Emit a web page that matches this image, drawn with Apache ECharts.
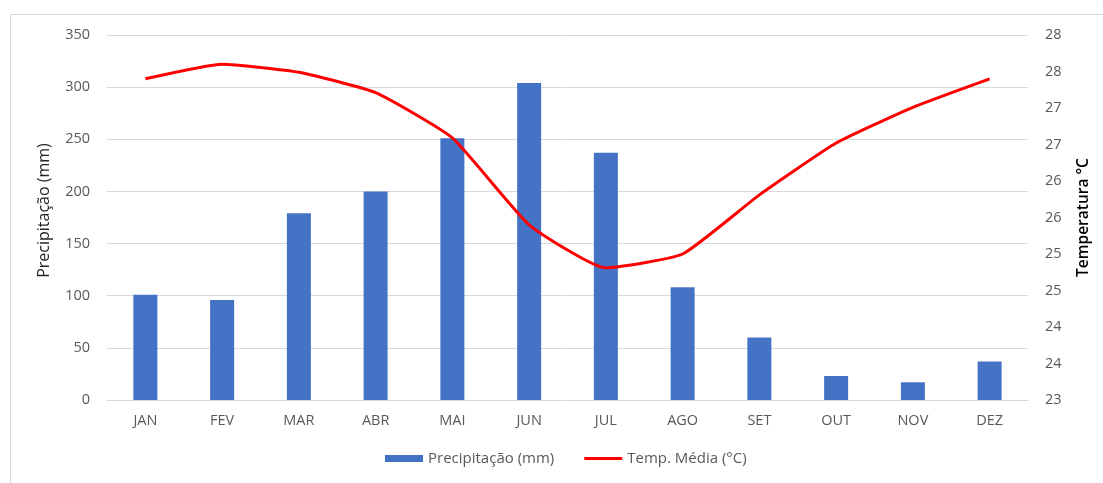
<!DOCTYPE html>
<html><head><meta charset="utf-8">
<script src="https://cdn.jsdelivr.net/npm/echarts@6/dist/echarts.min.js"></script>
<style>html,body{margin:0;padding:0;background:#fff}#c{width:1103px;height:483px}</style>
</head><body><div id="c"></div>
<script>
const months = ['JAN','FEV','MAR','ABR','MAI','JUN','JUL','AGO','SET','OUT','NOV','DEZ'];
const precipitacao = [101, 96, 179, 200, 251, 304, 237, 108, 60, 23, 17, 37];
const tempMedia = [27.40, 27.60, 27.49, 27.21, 26.59, 25.40, 24.81, 25.00, 25.81, 26.52, 27.01, 27.40];
const seriesNames = ['Precipitação (mm)', 'Temp. Média (°C)'];
const leftAxisName = 'Precipitação (mm)';
const rightAxisName = 'Temperatura °C';

const FONT = 'Open Sans';
const chart = echarts.init(document.getElementById('c'), null, {renderer: 'canvas'});
chart.setOption({
  animation: false,
  textStyle: {fontFamily: FONT},
  graphic: [{
    type: 'rect', shape: {x: 10.5, y: 14.5, width: 1100, height: 480},
    style: {fill: 'none', stroke: '#d9d9d9', lineWidth: 1}, silent: true, z: -1
  }],
  grid: {left: 107, right: 75, top: 35, bottom: 83, containLabel: false},
  legend: {
    bottom: 12, left: 380, itemGap: 30, itemWidth: 38, itemHeight: 7,
    textStyle: {fontFamily: FONT, fontSize: 15, color: '#595959'},
    data: [
      {name: seriesNames[0], icon: 'rect'},
      {name: seriesNames[1], icon: 'path://M0,0 L40,0 L40,3.2 L0,3.2 Z', itemStyle: {color: '#ff0000'}}
    ]
  },
  xAxis: {
    type: 'category', data: months,
    axisLine: {lineStyle: {color: '#d9d9d9'}},
    axisTick: {show: false},
    axisLabel: {color: '#595959', fontSize: 14.5, margin: 13, fontFamily: FONT}
  },
  yAxis: [{
    type: 'value', min: 0, max: 350, interval: 50,
    name: leftAxisName, nameLocation: 'middle', nameRotate: 90, nameGap: 55,
    nameTextStyle: {color: '#262626', fontSize: 16, fontFamily: FONT, padding: [0, 0, 0, 14]},
    axisLine: {show: false}, axisTick: {show: false},
    axisLabel: {color: '#595959', fontSize: 14.5, margin: 17, fontFamily: FONT},
    splitLine: {lineStyle: {color: '#d9d9d9', width: 1}}
  }, {
    type: 'value', min: 23, max: 28, interval: 0.5, position: 'right',
    name: rightAxisName, nameLocation: 'middle', nameRotate: 90, nameGap: 48,
    nameTextStyle: {color: '#000', fontSize: 15.5, fontFamily: FONT, fontWeight: 600, padding: [0, 0, 8, 0]},
    axisLine: {show: false}, axisTick: {show: false},
    axisLabel: {color: '#595959', fontSize: 14.5, margin: 17, fontFamily: FONT,
      formatter: v => String(Math.round(v))},
    splitLine: {show: false}
  }],
  series: [{
    name: seriesNames[0], type: 'bar', data: precipitacao, yAxisIndex: 0,
    barWidth: 24, itemStyle: {color: '#4472C4'}
  }, {
    name: seriesNames[1], type: 'line', data: tempMedia, yAxisIndex: 1,
    smooth: 0.15, symbol: 'none', lineStyle: {color: '#ff0000', width: 3}, itemStyle: {color: '#ff0000'}
  }]
});
</script></body></html>
